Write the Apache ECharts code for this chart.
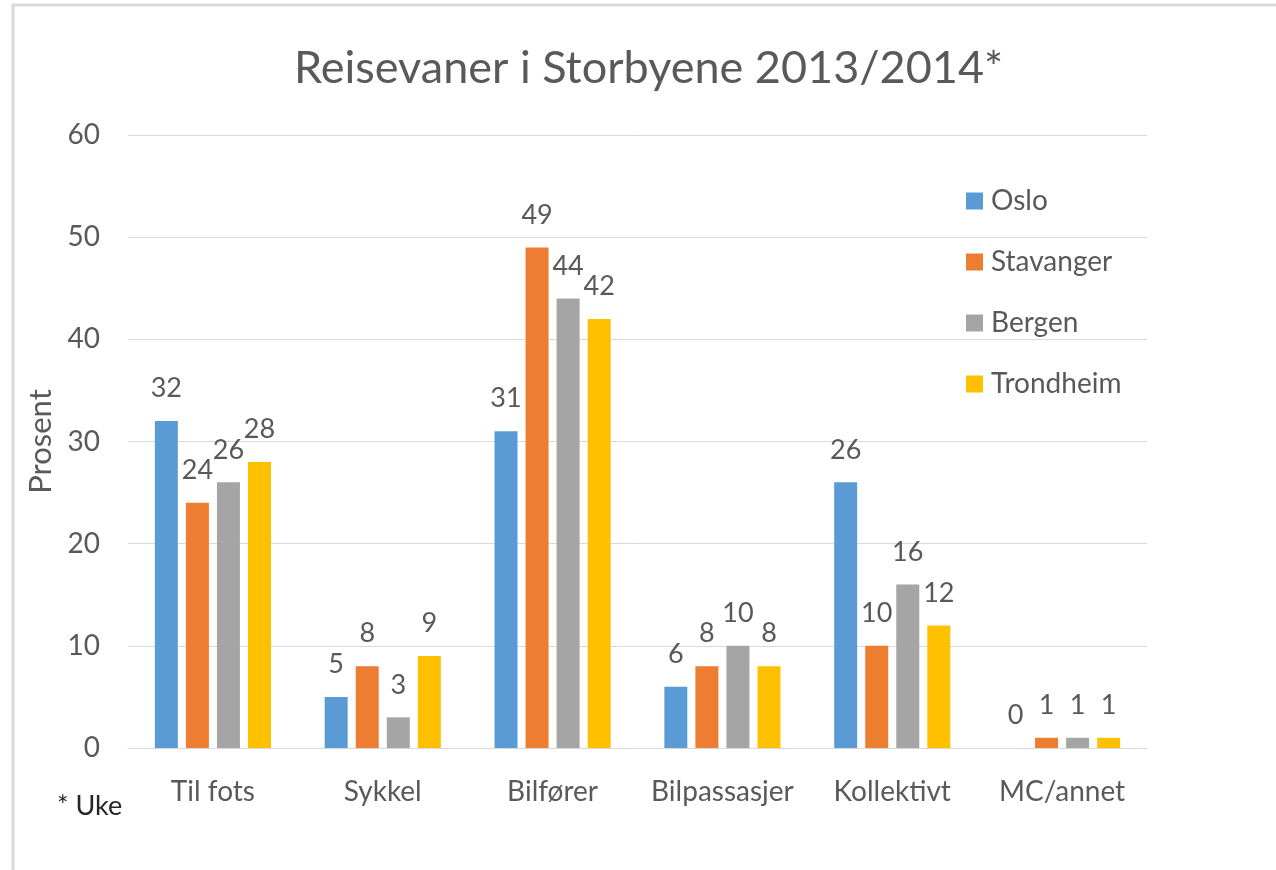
<!DOCTYPE html>
<html>
<head>
<meta charset="utf-8">
<script src="https://cdn.jsdelivr.net/npm/echarts@6/dist/echarts.min.js"></script>
<style>
  html, body { margin: 0; padding: 0; background: #fff; }
  #main { width: 1276px; height: 870px; }
</style>
</head>
<body>
<div id="main"></div>
<script>
const categories = ['Til fots', 'Sykkel', 'Bilfører', 'Bilpassasjer', 'Kollektivt', 'MC/annet'];
const oslo = [32, 5, 31, 6, 26, 0];
const stavanger = [24, 8, 49, 8, 10, 1];
const bergen = [26, 3, 44, 10, 16, 1];
const trondheim = [28, 9, 42, 8, 12, 1];
const yTicks = [0, 10, 20, 30, 40, 50, 60];

const textColor = '#595959';
const font = 'Lato, "Open Sans", sans-serif';

const makeSeries = (name, data, color) => ({
    name: name,
    type: 'bar',
    data: data,
    barWidth: 23,
    barGap: '35%',
    itemStyle: { color: color },
    label: {
        show: true,
        position: 'top',
        distance: 19,
        color: textColor,
        fontSize: 27,
        fontFamily: font
    }
});

const chart = echarts.init(document.getElementById('main'));
const option = {
    backgroundColor: '#fff',
    animation: false,
    textStyle: { fontFamily: font },
    title: {
        text: 'Reisevaner i Storbyene 2013/2014*',
        left: 294,
        top: 46,
        padding: 0,
        textStyle: { color: textColor, fontSize: 45, fontWeight: 'normal', fontFamily: font }
    },
    legend: {
        orient: 'vertical',
        left: 966,
        top: 187,
        padding: 0,
        itemWidth: 17,
        itemHeight: 17,
        itemGap: 33,
        icon: 'rect',
        textStyle: { color: textColor, fontSize: 28, fontFamily: font, padding: [0, 0, 0, 3] },
        data: ['Oslo', 'Stavanger', 'Bergen', 'Trondheim']
    },
    grid: { left: 128, right: 129, top: 135, bottom: 122 },
    xAxis: {
        type: 'category',
        data: categories,
        axisTick: { show: false },
        axisLine: { lineStyle: { color: '#d9d9d9', width: 1 } },
        axisLabel: { interval: 0, color: textColor, fontSize: 28, margin: 30, fontFamily: font }
    },
    yAxis: {
        type: 'value',
        min: yTicks[0],
        max: yTicks[yTicks.length - 1],
        interval: 10,
        name: 'Prosent',
        nameLocation: 'middle',
        nameGap: 72,
        nameTextStyle: { color: textColor, fontSize: 31, fontFamily: font },
        axisLine: { show: false },
        axisTick: { show: false },
        splitLine: { lineStyle: { color: '#d9d9d9', width: 1 } },
        axisLabel: { color: textColor, fontSize: 28, margin: 28, fontFamily: font }
    },
    graphic: [
        {
            type: 'rect',
            shape: { x: 13, y: 5, width: 1400, height: 1000 },
            style: { fill: 'none', stroke: '#d9d9d9', lineWidth: 3 }
        },
        {
            type: 'text',
            left: 57,
            top: 793,
            style: { text: '* Uke', fill: '#262626', fontSize: 27, fontFamily: font }
        }
    ],
    series: [
        makeSeries('Oslo', oslo, '#5B9BD5'),
        makeSeries('Stavanger', stavanger, '#ED7D31'),
        makeSeries('Bergen', bergen, '#A5A5A5'),
        makeSeries('Trondheim', trondheim, '#FFC000')
    ]
};
chart.setOption(option);
</script>
</body>
</html>
